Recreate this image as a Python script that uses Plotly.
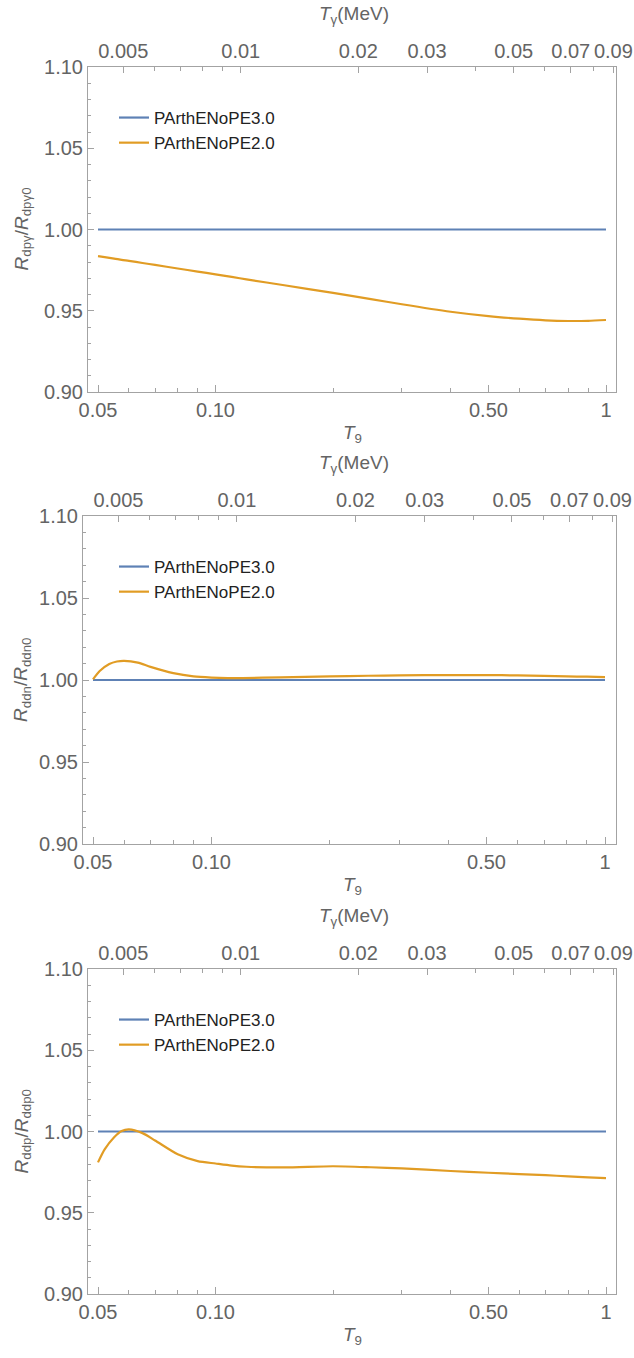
import numpy as np
import plotly.graph_objects as go

W, H = 634, 1358

# ---------------- data ----------------
T9 = [0.05, 0.052, 0.055, 0.0575, 0.06, 0.065, 0.07, 0.08, 0.09, 0.10, 0.11, 0.12,
      0.15, 0.2, 0.25, 0.3, 0.4, 0.5, 0.6, 0.7, 0.8, 0.9, 1.0]

# ratio R_dpγ / R_dpγ0
dpg_v3 = [1.0] * len(T9)
dpg_v2 = [0.9836, 0.9830, 0.9821, 0.9813, 0.9807, 0.9794, 0.9782, 0.9760, 0.9741, 0.9724,
          0.9708, 0.9693, 0.9657, 0.9610, 0.9572, 0.9540, 0.9494, 0.9467, 0.9451, 0.9441,
          0.9437, 0.9438, 0.9443]

# ratio R_ddn / R_ddn0
ddn_v3 = [1.0] * len(T9)
ddn_v2 = [1.0004, 1.0055, 1.0098, 1.0113, 1.0117, 1.0106, 1.0080, 1.0042, 1.0022, 1.0015,
          1.0012, 1.0012, 1.0016, 1.0022, 1.0026, 1.0028, 1.0030, 1.0030, 1.0028, 1.0025,
          1.0022, 1.0020, 1.0018]

# ratio R_ddp / R_ddp0
ddp_v3 = [1.0] * len(T9)
ddp_v2 = [0.9810, 0.9890, 0.9965, 1.0003, 1.0013, 0.9990, 0.9945, 0.9860, 0.9818, 0.9803,
          0.9790, 0.9783, 0.9779, 0.9786, 0.9780, 0.9773, 0.9757, 0.9746, 0.9738, 0.9731,
          0.9724, 0.9718, 0.9713]

series_names = ["PArthENoPE3.0", "PArthENoPE2.0"]
y_titles = ["<i>R</i><sub>dpγ</sub>/<i>R</i><sub>dpγ0</sub>",
            "<i>R</i><sub>ddn</sub>/<i>R</i><sub>ddn0</sub>",
            "<i>R</i><sub>ddp</sub>/<i>R</i><sub>ddp0</sub>"]

bottom_ticks = [0.05, 0.1, 0.5, 1.0]
bottom_text = ["0.05", "0.10", "0.50", "1"]
bottom_minor = [0.06, 0.07, 0.08, 0.09, 0.2, 0.3, 0.4, 0.6, 0.7, 0.8, 0.9]
top_ticks = [0.005, 0.01, 0.02, 0.03, 0.05, 0.07, 0.09]
top_text = ["0.005", "0.01", "0.02", "0.03", "0.05", "0.07", "0.09"]
top_minor = [0.006, 0.007, 0.008, 0.009, 0.04, 0.06, 0.08]
y_ticks = [0.90, 0.95, 1.00, 1.05, 1.10]

MEV_PER_T9 = 0.08617

# ---------------- style ----------------
BLUE = "#5E81B5"
ORANGE = "#E19C24"
FRAME = "#a3a3a3"
LABEL = "#646464"
FONT = "Liberation Sans, Arial, sans-serif"

# panel geometry in pixels: (left, right, top, bottom, x-range-log)
panels = [
    dict(l=88, r=616, t=67, b=392, xr=[np.log10(0.05) - 10 / 390.5, 10 / 390.5]),
    dict(l=83, r=616, t=516, b=844, xr=[np.log10(0.05) - 10 / 393.5, 11 / 393.5]),
    dict(l=88, r=616, t=969, b=1294, xr=[np.log10(0.05) - 10 / 390.5, 10 / 390.5]),
]
data = [(dpg_v3, dpg_v2), (ddn_v3, ddn_v2), (ddp_v3, ddp_v2)]

fig = go.Figure()
layout = dict(
    width=W, height=H, margin=dict(l=0, r=0, t=0, b=0, autoexpand=False),
    paper_bgcolor="white", plot_bgcolor="white",
    font=dict(family=FONT, color=LABEL, size=19),
    annotations=[],
)

def px(x):
    return x / W

def py(y):
    return 1 - y / H

for i, (p, (v3, v2)) in enumerate(zip(panels, data)):
    xb = f"x{2*i+1}" if i > 0 else "x"
    xt = f"x{2*i+2}"
    yy = f"y{i+1}" if i > 0 else "y"
    legname = "legend" if i == 0 else f"legend{i+1}"
    for vals, col, name in [(v3, BLUE, series_names[0]), (v2, ORANGE, series_names[1])]:
        fig.add_trace(go.Scatter(
            x=T9, y=vals, mode="lines", name=name,
            line=dict(color=col, width=2.2, shape="spline", smoothing=0.7),
            xaxis=xb, yaxis=yy, legend=legname, showlegend=True,
        ))
    # the same reference curve expressed in T_gamma (MeV) carries the top axis
    fig.add_trace(go.Scatter(
        x=[t * MEV_PER_T9 for t in T9], y=v3, mode="lines",
        line=dict(color="rgba(0,0,0,0)", width=0), hoverinfo="skip",
        xaxis=xt, yaxis=yy, showlegend=False,
    ))
    xb_key = "xaxis" if i == 0 else f"xaxis{2*i+1}"
    xt_key = f"xaxis{2*i+2}"
    y_key = "yaxis" if i == 0 else f"yaxis{i+1}"
    layout[xb_key] = dict(
        type="log", domain=[px(p["l"]), px(p["r"])], range=p["xr"], anchor=yy,
        showgrid=False, zeroline=False, showline=True, linecolor=FRAME, linewidth=1,
        ticks="inside", ticklen=7, tickcolor=FRAME, tickwidth=1,
        tickmode="array", tickvals=bottom_ticks, ticktext=bottom_text,
        tickfont=dict(size=20, color=LABEL),
        minor=dict(tickmode="array", tickvals=bottom_minor, ticks="inside",
                   ticklen=4, tickcolor=FRAME, showgrid=False),
    )
    off = np.log10(MEV_PER_T9)
    layout[xt_key] = dict(
        type="log", overlaying=xb, side="top", anchor=yy,
        range=[p["xr"][0] + off, p["xr"][1] + off],
        showgrid=False, zeroline=False, showline=True, linecolor=FRAME, linewidth=1,
        ticks="inside", ticklen=6, tickcolor=FRAME, tickwidth=1,
        tickmode="array", tickvals=top_ticks, ticktext=top_text,
        tickfont=dict(size=20, color=LABEL),
        minor=dict(tickmode="array", tickvals=top_minor, ticks="inside",
                   ticklen=4, tickcolor=FRAME, showgrid=False),
    )
    layout[y_key] = dict(
        domain=[py(p["b"]), py(p["t"])], range=[0.90, 1.10], anchor=xb,
        showgrid=False, zeroline=False, showline=True, mirror=True,
        linecolor=FRAME, linewidth=1,
        ticks="inside", ticklen=6, tickcolor=FRAME, tickwidth=1,
        tickmode="array", tickvals=y_ticks, tickformat=".2f",
        tickfont=dict(size=20, color=LABEL),
        minor=dict(dtick=0.01, ticks="inside", ticklen=3, tickcolor=FRAME, showgrid=False),
    )
    layout[legname] = dict(
        x=px(114), y=py(p["t"] + 33), xanchor="left", yanchor="top",
        bgcolor="rgba(0,0,0,0)", borderwidth=0,
        font=dict(size=17, color="#222222", family=FONT),
        tracegroupgap=0, itemwidth=30,
    )
    # axis titles
    layout["annotations"] += [
        dict(text="<i>T</i><sub>9</sub>", x=px(352), y=py(p["b"] + 42),
             xref="paper", yref="paper", showarrow=False, xanchor="center", yanchor="middle",
             font=dict(size=19, color=LABEL)),
        dict(text="<i>T</i><sub>γ</sub>(MeV)", x=px(354), y=py(p["t"] - 52),
             xref="paper", yref="paper", showarrow=False, xanchor="center", yanchor="middle",
             font=dict(size=19, color=LABEL)),
        dict(text=y_titles[i], x=px(22), y=py((p["t"] + p["b"]) / 2),
             xref="paper", yref="paper", showarrow=False, xanchor="center", yanchor="middle",
             textangle=-90, font=dict(size=19, color=LABEL)),
    ]

fig.update_layout(**layout)
fig.write_html("out.html")
